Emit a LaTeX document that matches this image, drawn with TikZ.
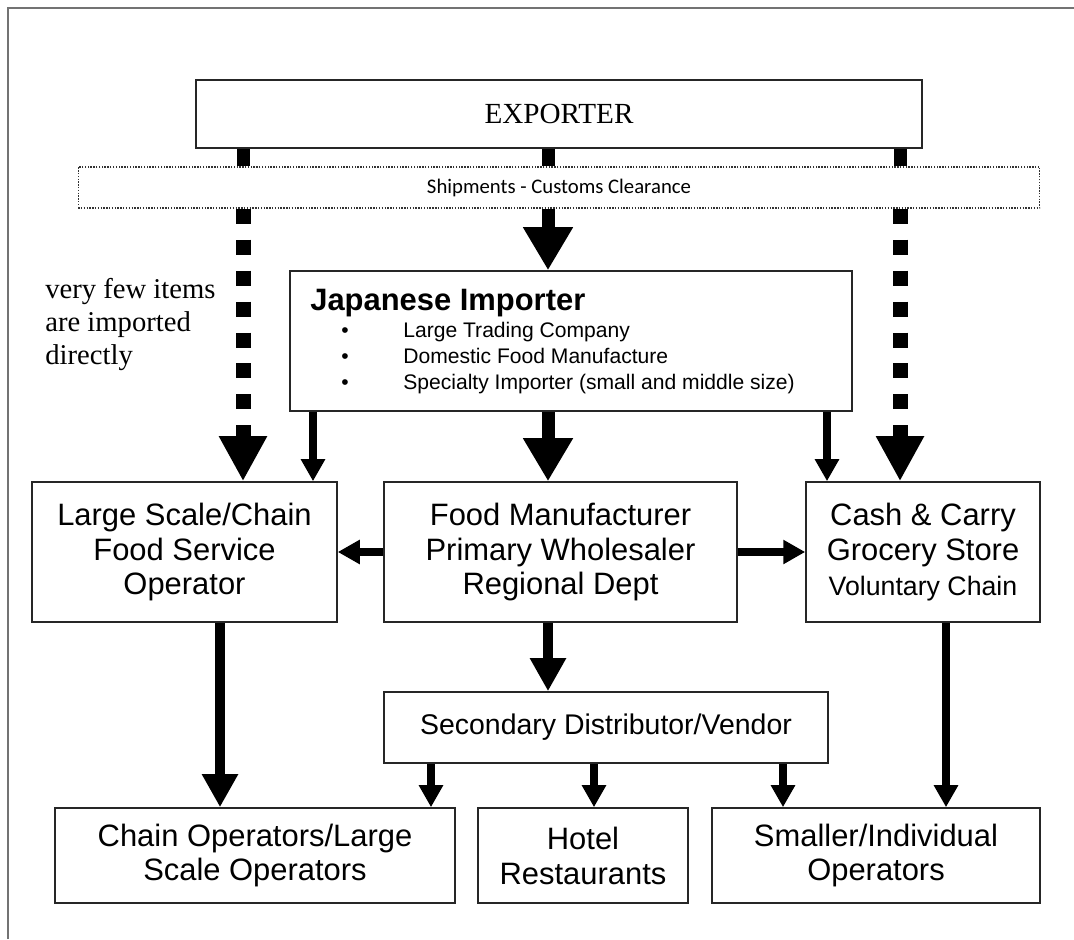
\documentclass[tikz,border=0pt]{standalone}
\usepackage{fontspec}
\setmainfont{Liberation Serif}
\setsansfont{Liberation Sans}
\newfontfamily\calfont{Carlito}
\usetikzlibrary{arrows.meta, positioning, calc}

\tikzset{
  box/.style={draw=black!85, line width=0.9pt, fill=white, inner sep=0pt, align=center,
    font=\sffamily\fontsize{17.6}{19.9}\selectfont},
  stub/.style={line width=0.26cm},
  bigarr/.style={line width=0.26cm, -{Triangle[width=0.94cm, length=0.86cm]}},
  dotarr/.style={line width=0.3cm, dash pattern=on 0.3cm off 0.32cm,
    -{Triangle[width=0.9cm, length=0.9cm]}},
  midarr/.style={line width=0.2cm, -{Triangle[width=0.68cm, length=0.66cm]}},
  thinarr/.style={line width=0.15cm, -{Triangle[width=0.46cm, length=0.44cm]}},
}

\begin{document}
\begin{tikzpicture}[x=0.02cm, y=-0.02cm]
  \useasboundingbox (0,0) rectangle (1074,939);
  % === frame ===
  \draw[black!55, line width=1pt] (8,939) -- (8,8) -- (1074,8);

  % === top: exporter and customs ===
  \node[box, font=\fontsize{16.6}{19}\selectfont, minimum width=14.52cm, minimum height=1.36cm] (exp) at (559,114) {EXPORTER};
  \node[draw=black!80, line width=0.6pt, dash pattern=on 0.8pt off 0.8pt, fill=white,
    minimum width=19.24cm, minimum height=0.82cm, inner sep=0pt,
    font=\calfont\fontsize{11.8}{14}\selectfont] (ship) at (559,187.5) {Shipments - Customs Clearance};

  \coordinate (colA) at (243,0);
  \coordinate (colB) at (548,0);
  \coordinate (colC) at (900,0);
  \draw[stub] (exp.south -| colA) -- (ship.north -| colA);
  \draw[stub] (exp.south -| colB) -- (ship.north -| colB);
  \draw[stub] (exp.south -| colC) -- (ship.north -| colC);

  % === importer ===
  \node[box, minimum width=11.24cm, minimum height=2.8cm] (imp) at (571,341) {};
  \node[anchor=base west, inner sep=0pt, font=\sffamily\bfseries\fontsize{17.6}{20}\selectfont] (imptitle) at (310,310) {Japanese Importer};
  \foreach \t [count=\i] in {Large Trading Company, Domestic Food Manufacture, Specialty Importer (small and middle size)} {
    \node[anchor=base, inner sep=0pt, font=\sffamily\fontsize{12}{14}\selectfont] (dot\i) at (345,311+26*\i) {\textbullet};
    \node[anchor=base west, inner sep=0pt, font=\sffamily\fontsize{12}{14}\selectfont] (item\i) at (403,311+26*\i) {\t};
  }

  \node[anchor=north west, align=left, inner sep=0pt, font=\fontsize{16.3}{18.7}\selectfont] (note) at (45,278) {very few items\\are imported\\directly};

  % === second row ===
  \node[box, minimum width=6.1cm, minimum height=2.8cm] (lsc) at (184.5,552) {Large Scale/Chain\\Food Service\\Operator};
  \node[box, minimum width=7.06cm, minimum height=2.8cm] (mfr) at (560.5,552) {Food Manufacturer\\Primary Wholesaler\\Regional Dept};
  \node[box, minimum width=4.68cm, minimum height=2.8cm] (cash) at (923,552) {Cash \& Carry\\Grocery Store\\{\fontsize{15.2}{19.9}\selectfont Voluntary Chain}};

  \node[box, font=\sffamily\fontsize{16.2}{19}\selectfont, minimum width=8.88cm, minimum height=1.42cm] (sec) at (606,727.5) {Secondary Distributor/Vendor};

  % === bottom row ===
  \node[box, minimum width=8cm, minimum height=1.9cm] (chain) at (255,855.5) {Chain Operators/Large\\Scale Operators};
  \node[box, minimum width=4.2cm, minimum height=1.9cm] (hotel) at (583,855.5) {Hotel\\Restaurants};
  \node[box, minimum width=6.56cm, minimum height=1.9cm] (small) at (876,855.5) {Smaller/Individual\\Operators};

  % === arrows ===
  \draw[dotarr] (ship.south -| colA) -- (lsc.north -| colA);
  \draw[bigarr] (ship.south -| colB) -- (imp.north -| colB);
  \draw[dotarr] (ship.south -| colC) -- (cash.north -| colC);

  \coordinate (colD) at (313,0);
  \coordinate (colE) at (827,0);
  \draw[thinarr] (imp.south -| colD) -- (lsc.north -| colD);
  \draw[bigarr] (imp.south -| colB) -- (mfr.north -| colB);
  \draw[thinarr] (imp.south -| colE) -- (cash.north -| colE);

  \draw[thinarr] (mfr.west) -- (lsc.east);
  \draw[thinarr] (mfr.east) -- (cash.west);
  \draw[midarr] (mfr.south -| colB) -- (sec.north -| colB);

  \coordinate (colF) at (220,0);
  \coordinate (colG) at (946,0);
  \draw[midarr] (lsc.south -| colF) -- (chain.north -| colF);
  \draw[thinarr] (cash.south -| colG) -- (small.north -| colG);

  \foreach \x/\dest in {431/chain, 594/hotel, 783/small} {
    \draw[thinarr] (sec.south -| \x,0) -- (\dest.north -| \x,0);
  }
\end{tikzpicture}
\end{document}
